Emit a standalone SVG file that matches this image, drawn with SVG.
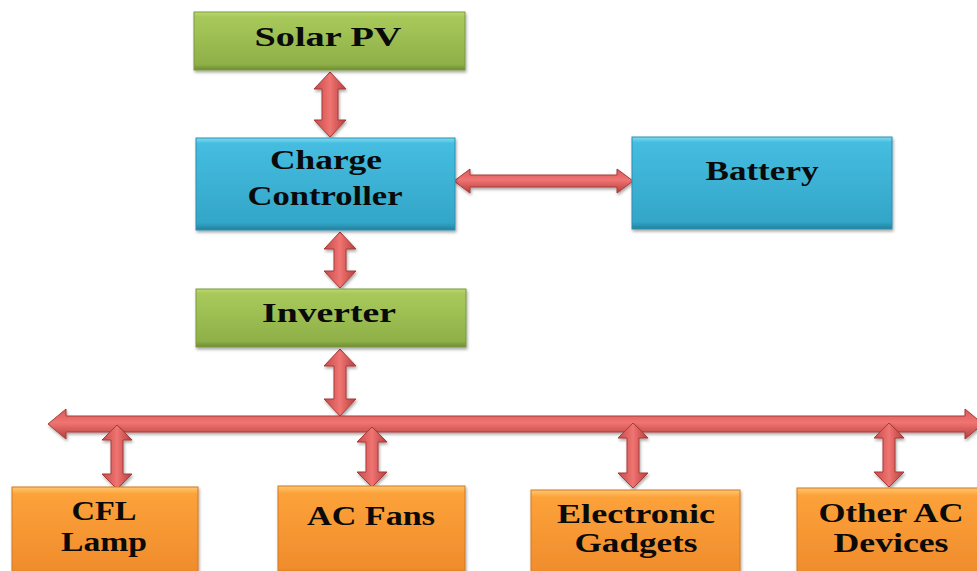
<svg xmlns="http://www.w3.org/2000/svg" width="977" height="571" viewBox="0 0 977 571">
<defs>
<linearGradient id="gGreen" x1="0" y1="0" x2="0" y2="1">
<stop offset="0" stop-color="#bcd96e"/><stop offset="0.08" stop-color="#a8c95a"/><stop offset="0.9" stop-color="#8fb048"/><stop offset="1" stop-color="#6f8c34"/>
</linearGradient>
<linearGradient id="gBlue" x1="0" y1="0" x2="0" y2="1">
<stop offset="0" stop-color="#7fdcf2"/><stop offset="0.06" stop-color="#45bde0"/><stop offset="0.92" stop-color="#33a6c8"/><stop offset="1" stop-color="#22809e"/>
</linearGradient>
<linearGradient id="gOrange" x1="0" y1="0" x2="0" y2="1">
<stop offset="0" stop-color="#ffc870"/><stop offset="0.08" stop-color="#fca23a"/><stop offset="0.92" stop-color="#f08c2c"/><stop offset="1" stop-color="#c86c1a"/>
</linearGradient>
<linearGradient id="gArrowV" x1="0" y1="0" x2="1" y2="0">
<stop offset="0" stop-color="#c44a48"/><stop offset="0.5" stop-color="#f07472"/><stop offset="1" stop-color="#b43e3c"/>
</linearGradient>
<linearGradient id="gArrowH" x1="0" y1="0" x2="0" y2="1">
<stop offset="0" stop-color="#d85a58"/><stop offset="0.45" stop-color="#f07472"/><stop offset="1" stop-color="#b43e3c"/>
</linearGradient>
<filter id="sh" x="-10%" y="-10%" width="120%" height="130%">
<feDropShadow dx="1" dy="2" stdDeviation="1.5" flood-color="#000" flood-opacity="0.35"/>
</filter>
</defs>
<style>
.box{filter:url(#sh);stroke-width:1}
.green{fill:url(#gGreen);stroke:#7a9a3c}
.blue{fill:url(#gBlue);stroke:#2a90ae}
.orange{fill:url(#gOrange);stroke:#d07822}
.lbl{font-family:"Liberation Serif","Times New Roman",serif;font-weight:bold;font-size:28px;fill:#0a0a0a;text-anchor:middle}
.av{fill:url(#gArrowV);stroke:#a83a38;stroke-width:1;filter:url(#sh)}
.ah{fill:url(#gArrowH);stroke:#a83a38;stroke-width:1;filter:url(#sh)}
</style>

<g id="connectors">
<polygon class="av" points="330,72 346,89 338,89 338,120 346,120 330,137 314,120 322,120 322,89 314,89"/>
<polygon class="ah" points="454,181 470,169 470,175 617,175 617,169 633,181 617,193 617,187 470,187 470,193"/>
<polygon class="av" points="340,232 356,249 346,249 346,271 356,271 340,288 324,271 334,271 334,249 324,249"/>
<polygon class="av" points="340,349 356,366 346,366 346,399 356,399 340,416 324,399 334,399 334,366 324,366"/>
<polygon class="ah" points="48,424 66,409 66,416 965,416 965,409 983,424 965,439 965,432 66,432 66,439"/>
<polygon class="av" points="117,425 132,440 123,440 123,474 132,474 117,489 102,474 111,474 111,440 102,440"/>
<polygon class="av" points="372,427 387,442 378,442 378,472 387,472 372,487 357,472 366,472 366,442 357,442"/>
<polygon class="av" points="633,423 648,438 639,438 639,473 648,473 633,488 618,473 627,473 627,438 618,438"/>
<polygon class="av" points="889,423 904,438 895,438 895,472 904,472 889,487 874,472 883,472 883,438 874,438"/>
</g>

<g id="solar-pv">
<rect class="box green" x="194" y="12" width="271" height="58"/>
<text class="lbl" x="328" y="46" textLength="147" lengthAdjust="spacingAndGlyphs">Solar PV</text>
</g>
<g id="charge-controller">
<rect class="box blue" x="196" y="138" width="259" height="92"/>
<text class="lbl" x="326" y="169" textLength="112" lengthAdjust="spacingAndGlyphs">Charge</text>
<text class="lbl" x="325" y="205" textLength="155" lengthAdjust="spacingAndGlyphs">Controller</text>
</g>
<g id="battery">
<rect class="box blue" x="632" y="137" width="260" height="92"/>
<text class="lbl" x="762" y="180" textLength="113" lengthAdjust="spacingAndGlyphs">Battery</text>
</g>
<g id="inverter">
<rect class="box green" x="196" y="289" width="270" height="58"/>
<text class="lbl" x="329" y="322" textLength="134" lengthAdjust="spacingAndGlyphs">Inverter</text>
</g>
<g id="cfl-lamp">
<rect class="box orange" x="12" y="487" width="186" height="90"/>
<text class="lbl" x="104" y="520" textLength="65" lengthAdjust="spacingAndGlyphs">CFL</text>
<text class="lbl" x="104" y="551" textLength="86" lengthAdjust="spacingAndGlyphs">Lamp</text>
</g>
<g id="ac-fans">
<rect class="box orange" x="278" y="486" width="187" height="90"/>
<text class="lbl" x="371" y="525" textLength="128" lengthAdjust="spacingAndGlyphs">AC Fans</text>
</g>
<g id="electronic-gadgets">
<rect class="box orange" x="531" y="490" width="209" height="90"/>
<text class="lbl" x="636" y="523" textLength="158" lengthAdjust="spacingAndGlyphs">Electronic</text>
<text class="lbl" x="636" y="552" textLength="123" lengthAdjust="spacingAndGlyphs">Gadgets</text>
</g>
<g id="other-ac-devices">
<rect class="box orange" x="797" y="488" width="190" height="90"/>
<text class="lbl" x="891" y="522" textLength="145" lengthAdjust="spacingAndGlyphs">Other AC</text>
<text class="lbl" x="891" y="552" textLength="115" lengthAdjust="spacingAndGlyphs">Devices</text>
</g>
</svg>
